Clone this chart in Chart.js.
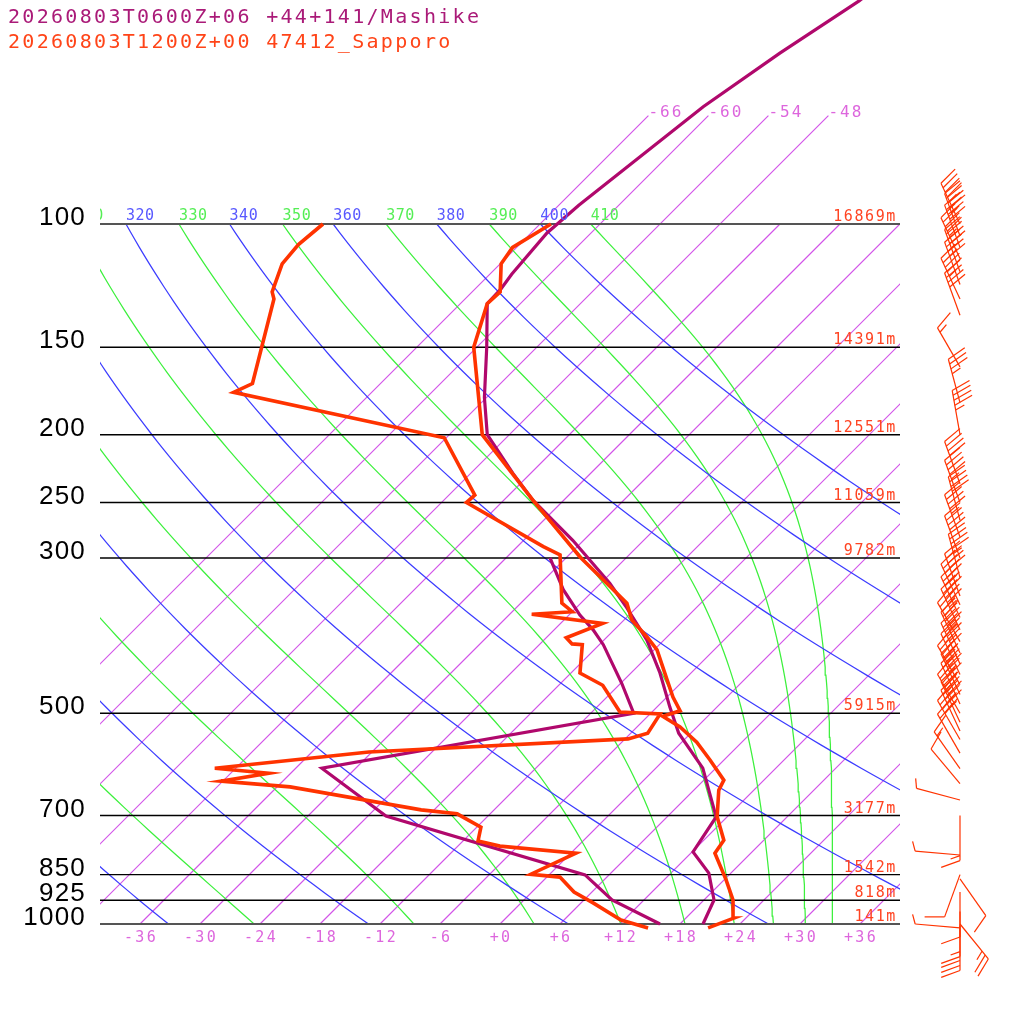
<!DOCTYPE html>
<html><head><meta charset="utf-8">
<script src="https://cdn.jsdelivr.net/npm/chart.js@4.4.1/dist/chart.umd.min.js"></script>
<style>html,body{margin:0;padding:0;background:#fff;}#wrap{width:1024px;height:1024px;}</style>
</head><body><div id="wrap"><canvas id="c" width="1024" height="1024"></canvas></div>
<script>
// ---------------- data ----------------
const titleLines = ['20260803T0600Z+06 +44+141/Mashike', '20260803T1200Z+00 47412_Sapporo'];
const pressureLevels = [100, 150, 200, 250, 300, 500, 700, 850, 925, 1000];
const pressureLabels = ['100', '150', '200', '250', '300', '500', '700', '850', '925', '1000'];
const heightLabels = ['16869m', '14391m', '12551m', '11059m', '9782m', '5915m', '3177m', '1542m', '818m', '141m'];
const tempTicks = [-36, -30, -24, -18, -12, -6, 0, 6, 12, 18, 24, 30, 36];
const tempTickLabels = ['-36', '-30', '-24', '-18', '-12', '-6', '+0', '+6', '+12', '+18', '+24', '+30', '+36'];
const isotherms = [-66, -60, -54, -48, -42, -36, -30, -24, -18, -12, -6, 0, 6, 12, 18, 24, 30, 36];
const isothermLabels = ['-66', '-60', '-54', '-48'];
const dryAdiabats = [240, 260, 280, 300, 320, 340, 360, 380, 400];
const moistAdiabats = [250, 270, 290, 310, 330, 350, 370, 390, 410];

// Mashike (model) sounding
const mashikeP  = [1000, 924, 846, 789, 703, 599, 534, 490, 438, 393, 353, 326, 283, 248, 227, 200, 177, 150, 130, 124, 118, 103, 94, 68, 57, 48, 46];
const mashikeT  = [20.3, 19.0, 15.8, 12.1, 10.9, 4.7, -1.2, -4.7, -9.1, -13.7, -19.0, -23.1, -31.1, -39.1, -43.8, -50.2, -54.2, -59.0, -63.3, -63.4, -63.8, -64.4, -64.0, -61.4, -59.1, -56.4, -56.0];
const mashikeTdP = [1000, 924, 851, 701, 599, 500, 453, 399, 380, 362, 333, 300];
const mashikeTd  = [16.0, 8.8, 3.6, -22.2, -33.4, -7.7, -11.9, -17.6, -20.1, -22.9, -27.1, -31.6];

// Sapporo (47412) observed sounding
const sapporoP = [1013, 981, 924, 865, 792, 759, 703, 644, 623, 583, 550, 523, 505, 496, 474, 448, 406, 389, 368, 348, 326, 299, 248, 200, 150, 130, 125, 114, 108, 100];
const sapporoT = [21.2, 22.8, 20.9, 18.2, 14.4, 14.0, 11.0, 8.5, 8.0, 4.6, 1.5, -1.7, -4.5, -3.3, -5.4, -7.7, -11.7, -14.0, -17.2, -19.4, -23.4, -28.7, -39.1, -50.7, -60.3, -63.3, -63.2, -65.9, -66.4, -64.9];
const sapporoTdP = [1013, 987, 933, 900, 857, 849, 792, 774, 761, 727, 696, 687, 637, 625, 609, 599, 568, 544, 534, 501, 498, 456, 438, 399, 398, 390, 372, 361, 358, 348, 297, 289, 250, 244, 202, 174, 169, 128, 125, 114, 107, 100];
const sapporoTd  = [15.2, 11.7, 7.2, 4.2, 1.3, -1.9, 0.5, -7.8, -10.5, -11.6, -15.3, -19.3, -34.7, -42.2, -38.2, -44.1, -30.3, -5.7, -4.3, -5.0, -9.2, -13.6, -17.1, -19.7, -20.8, -22.0, -19.8, -27.8, -24.0, -25.9, -30.9, -33.4, -45.5, -45.4, -54.2, -79.8, -78.8, -85.1, -86.0, -87.8, -88.1, -87.7];

// wind barbs (hPa, direction deg, speed kt)
const windP   = [100, 104, 108, 112, 117, 122, 128, 135, 160, 180, 200, 235, 250, 265, 280, 300, 320, 340, 350, 365, 380, 395, 410, 425, 440, 455, 470, 485, 500, 515, 530, 545, 570, 600, 630, 665, 700, 797, 850, 862, 900, 960, 1000, 1005, 1013];
const windDir = [335, 340, 340, 335, 340, 340, 335, 340, 330, 345, 350, 340, 340, 345, 340, 340, 345, 340, 335, 335, 335, 330, 335, 335, 335, 330, 335, 335, 330, 335, 335, 330, 330, 325, 320, 285, 180, 275, 200, 145, 180, 180, 141, 180, 275];
const windSpd = [45, 45, 40, 45, 45, 40, 45, 40, 15, 35, 45, 40, 45, 40, 45, 40, 45, 40, 45, 45, 45, 40, 45, 45, 45, 45, 45, 45, 45, 45, 45, 40, 20, 15, 10, 5, 15, 5, 10, 10, 10, 15, 25, 30, 5];

// ---------------- diagram geometry ----------------
const SKEW = 30.4;            // degC of horizontal shift per ln(p) unit (45 degree isotherms)
const P_TOP = 1000 / Math.pow(10, 924 / 700);
const KAPPA = 0.2857;
const COL = {
  mashike: '#b0086c', sapporo: '#ff3300', iso: 'rgb(210,84,232)', isoText: '#dd66dd',
  dry: 'rgb(60,60,255)', dryText: '#5858ff', moist: 'rgb(60,240,60)', moistText: '#55ee55',
  height: '#ff4422', title1: '#aa1a78', title2: '#ff4418'
};
const skewX = (T, p) => T + SKEW * Math.log(1000 / p);
const toPts = (ps, ts) => ps.map((p, i) => ({ x: skewX(ts[i], p), y: p }));

function thetaESat(Tc, p) {
  const es = 6.112 * Math.exp(17.67 * Tc / (Tc + 243.5));
  if (es >= p * 0.9) return 1e9;
  const r = 0.622 * es / (p - es);
  const TK = Tc + 273.15;
  return TK * Math.pow(1000 / p, 0.2854 * (1 - 0.28 * r)) *
    Math.exp((3.376 / TK - 0.00254) * r * 1000 * (1 + 0.81 * r));
}
function moistT(thE, p) {
  let lo = -170, hi = 60;
  for (let i = 0; i < 60; i++) {
    const m = (lo + hi) / 2;
    if (thetaESat(m, p) > thE) hi = m; else lo = m;
  }
  return (lo + hi) / 2;
}
const profileP = [];
for (let i = 0; i <= 90; i++) profileP.push(1000 * Math.exp(-Math.log(10) * i / 90));

const datasets = [];
function addLine(data, color, width, extra) {
  datasets.push(Object.assign({ data, borderColor: color, backgroundColor: color, borderWidth: width, showLine: true,
    pointRadius: 0, fill: false, tension: 0 }, extra || {}));
}
// soundings (first = on top)
addLine(toPts(sapporoP, sapporoT), COL.sapporo, 3.6, { clip: false });
addLine(toPts(sapporoTdP, sapporoTd), COL.sapporo, 3.6, { clip: false });
addLine(toPts(mashikeP, mashikeT), COL.mashike, 3.2, { clip: false });
addLine(toPts(mashikeTdP, mashikeTd), COL.mashike, 3.2, { clip: false });
// pressure lines
pressureLevels.forEach(p => {
  const edge = (p === 100 || p === 1000);
  addLine([{ x: -40, y: p }, { x: 40, y: p }], edge ? '#555555' : '#000000', edge ? 2 : 1.4, { clip: false });
});
// dry adiabats
dryAdiabats.forEach(th => {
  addLine(profileP.map(p => ({ x: skewX(th * Math.pow(p / 1000, KAPPA) - 273.15, p), y: p })), COL.dry, 1.25);
});
// moist adiabats
moistAdiabats.forEach(te => {
  addLine(profileP.map(p => ({ x: skewX(moistT(te, p), p), y: p })), COL.moist, 1.25);
});

function txt(ctx, s, x, y, font, color, align, spacing) {
  ctx.save();
  ctx.font = font; ctx.fillStyle = color; ctx.textAlign = align; ctx.textBaseline = 'alphabetic';
  if ('letterSpacing' in ctx) ctx.letterSpacing = (spacing || 0) + 'px';
  ctx.fillText(s, x, y);
  ctx.restore();
}

// isotherms drawn beneath the datasets, through the chart scales
const isothermPlugin = {
  id: 'isotherms',
  beforeDatasetsDraw(chart) {
    const ctx = chart.ctx, xs = chart.scales.x, ys = chart.scales.y, a = chart.chartArea;
    ctx.save();
    ctx.beginPath(); ctx.rect(a.left, a.top, a.right - a.left, a.bottom - a.top); ctx.clip();
    ctx.strokeStyle = COL.iso; ctx.lineWidth = 1.2; ctx.globalAlpha = 1;
    isotherms.forEach(T => {
      const pt = T <= -48 ? 70 : 100;
      ctx.beginPath();
      ctx.moveTo(xs.getPixelForValue(skewX(T, 1000)), ys.getPixelForValue(1000));
      ctx.lineTo(xs.getPixelForValue(skewX(T, pt)), ys.getPixelForValue(pt));
      ctx.stroke();
    });
    ctx.restore();
  }
};

const textPlugin = {
  id: 'skewtText',
  afterDraw(chart) {
    const ctx = chart.ctx, xs = chart.scales.x, ys = chart.scales.y;
    const mono = '"DejaVu Sans Mono", monospace';
    txt(ctx, titleLines[0], 8, 23, '20px ' + mono, COL.title1, 'left', 2.3);
    txt(ctx, titleLines[1], 8, 48, '20px ' + mono, COL.title2, 'left', 2.3);
    pressureLevels.forEach((p, i) => {
      const y = ys.getPixelForValue(p);
      txt(ctx, pressureLabels[i], 86, y + 1, '26px "Liberation Sans", Arial, sans-serif', '#000', 'right', 1.2);
      txt(ctx, heightLabels[i], 897, y - 3, '15px ' + mono, COL.height, 'right', 1.6);
    });
    tempTicks.forEach((T, i) => {
      txt(ctx, tempTickLabels[i], xs.getPixelForValue(T) + 1, ys.getPixelForValue(1000) + 18, '15px ' + mono, COL.isoText, 'center', 2.3);
    });
    isotherms.forEach((T, i) => {
      if (i >= isothermLabels.length) return;
      txt(ctx, isothermLabels[i], xs.getPixelForValue(skewX(T, 70)), ys.getPixelForValue(70) + 1, '16px ' + mono, COL.isoText, 'left', 2);
    });
    ctx.save();
    ctx.beginPath(); ctx.rect(xs.left, 0, xs.right - xs.left + 40, 1024); ctx.clip();
    const ly = ys.getPixelForValue(100) - 4;
    dryAdiabats.forEach(th => {
      const X = skewX(th * Math.pow(0.1, KAPPA) - 273.15, 100);
      txt(ctx, String(th), xs.getPixelForValue(X), ly, '15px ' + mono, COL.dryText, 'left', 0.5);
    });
    moistAdiabats.forEach(te => {
      const X = skewX(moistT(te, 100), 100);
      txt(ctx, String(te), xs.getPixelForValue(X), ly, '15px ' + mono, COL.moistText, 'left', 0.5);
    });
    ctx.restore();
  }
};

const barbPlugin = {
  id: 'barbs',
  afterDraw(chart) {
    const ctx = chart.ctx, ys = chart.scales.y;
    const baseX = chart.chartArea.right + 60;
    ctx.save();
    ctx.strokeStyle = COL.sapporo; ctx.fillStyle = COL.sapporo; ctx.lineWidth = 1.2;
    windP.forEach((p, i) => {
      const y0 = ys.getPixelForValue(p);
      const rad = windDir[i] * Math.PI / 180;
      const ux = Math.sin(rad), uy = -Math.cos(rad);
      const L = 45;
      const tx = baseX + ux * L, ty = y0 + uy * L;
      ctx.beginPath(); ctx.moveTo(baseX, y0); ctx.lineTo(tx, ty); ctx.stroke();
      const a = 70 * Math.PI / 180;
      const fx = ux * Math.cos(a) - uy * Math.sin(a), fy = ux * Math.sin(a) + uy * Math.cos(a);
      let s = Math.round(windSpd[i] / 5) * 5, pos = 0;
      const at = d => [tx - ux * d, ty - uy * d];
      while (s >= 50) {
        const [ax, ay] = at(pos), [bx, by] = at(pos + 7);
        ctx.beginPath(); ctx.moveTo(ax, ay); ctx.lineTo(ax + fx * 20, ay + fy * 20); ctx.lineTo(bx, by); ctx.closePath(); ctx.fill();
        pos += 9; s -= 50;
      }
      while (s >= 10) {
        const [ax, ay] = at(pos);
        ctx.beginPath(); ctx.moveTo(ax, ay); ctx.lineTo(ax + fx * 20, ay + fy * 20); ctx.stroke();
        pos += 5; s -= 10;
      }
      if (s >= 5) {
        const [ax, ay] = at(pos);
        ctx.beginPath(); ctx.moveTo(ax, ay); ctx.lineTo(ax + fx * 10, ay + fy * 10); ctx.stroke();
      }
    });
    ctx.restore();
  }
};

new Chart(document.getElementById('c').getContext('2d'), {
  type: 'scatter',
  data: { datasets },
  options: {
    responsive: false, animation: false, devicePixelRatio: 1,
    layout: { padding: { left: 100, right: 124, top: 0, bottom: 100 } },
    plugins: { legend: { display: false }, tooltip: { enabled: false } },
    events: [],
    scales: {
      x: { type: 'linear', min: -40, max: 40, display: false },
      y: { type: 'logarithmic', min: P_TOP, max: 1000, reverse: true, display: false }
    },
    elements: { point: { radius: 0 }, line: { tension: 0 } }
  },
  plugins: [isothermPlugin, textPlugin, barbPlugin]
});
</script>
</body></html>
